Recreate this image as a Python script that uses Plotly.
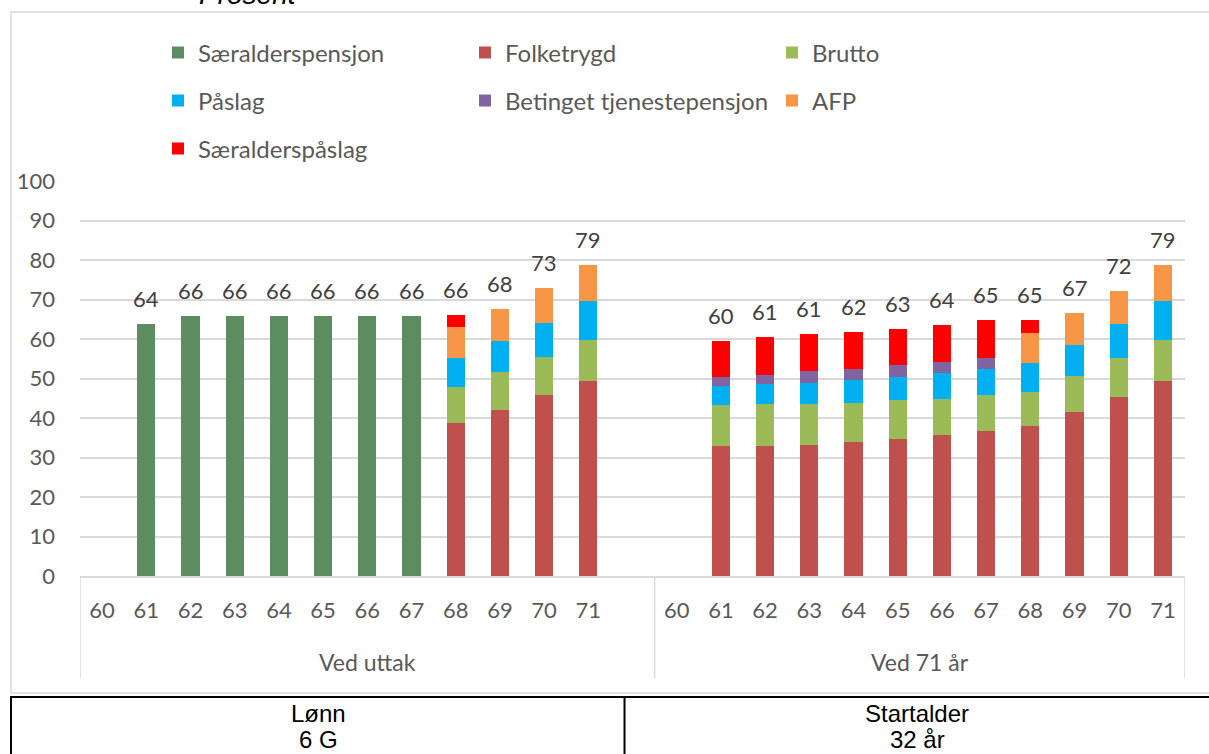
import plotly.graph_objects as go

# Category labels
ages = ["60", "61", "62", "63", "64", "65", "66", "67", "68", "69", "70", "71"]
group_labels = ["Ved uttak", "Ved 71 år"]

# Pension components, percent of salary — "Ved uttak"
saeralderspensjon_uttak = [None, 63.7, 65.9, 65.9, 65.9, 65.9, 65.9, 65.9, None, None, None, None]
folketrygd_uttak = [None, None, None, None, None, None, None, None, 38.7, 42.1, 45.7, 49.4]
brutto_uttak = [None, None, None, None, None, None, None, None, 9.2, 9.5, 9.8, 10.4]
paaslag_uttak = [None, None, None, None, None, None, None, None, 7.2, 7.9, 8.5, 9.8]
betinget_uttak = [None] * 12
afp_uttak = [None, None, None, None, None, None, None, None, 7.9, 8.1, 8.9, 9.2]
saeralderspaaslag_uttak = [None, None, None, None, None, None, None, None, 3.0, None, None, None]

# Pension components, percent of salary — "Ved 71 år"
saeralderspensjon_71 = [None] * 12
folketrygd_71 = [None, 32.9, 32.9, 33.1, 33.8, 34.8, 35.7, 36.8, 38.1, 41.4, 45.4, 49.4]
brutto_71 = [None, 10.3, 10.6, 10.4, 10.1, 9.8, 9.2, 8.9, 8.5, 9.2, 9.7, 10.4]
paaslag_71 = [None, 4.9, 5.0, 5.3, 5.6, 5.8, 6.5, 6.8, 7.3, 7.9, 8.6, 9.8]
betinget_71 = [None, 2.3, 2.5, 3.0, 2.9, 3.0, 2.7, 2.6, None, None, None, None]
afp_71 = [None, None, None, None, None, None, None, None, 7.5, 8.1, 8.5, 9.2]
saeralderspaaslag_71 = [None, 9.2, 9.6, 9.5, 9.5, 9.2, 9.5, 9.6, 3.3, None, None, None]

series_names = ["Særalderspensjon", "Folketrygd", "Brutto", "Påslag",
                "Betinget tjenestepensjon", "AFP", "Særalderspåslag"]
series_colors = ["#5E8C61", "#C0504D", "#9BBB59", "#00B0F0", "#8064A2", "#F79646", "#FF0000"]
legend_rows = ["legend", "legend", "legend", "legend2", "legend2", "legend2", "legend3"]

table_headers = ["Lønn", "Startalder"]
table_values = ["6 G", "32 år"]

series_uttak = [saeralderspensjon_uttak, folketrygd_uttak, brutto_uttak, paaslag_uttak,
                betinget_uttak, afp_uttak, saeralderspaaslag_uttak]
series_71 = [saeralderspensjon_71, folketrygd_71, brutto_71, paaslag_71,
             betinget_71, afp_71, saeralderspaaslag_71]

# Slot positions on the category axis: 12 ages, one empty slot, 12 ages
pos_uttak = list(range(0, 12))
pos_71 = list(range(13, 25))
positions = pos_uttak + pos_71

GRAY_TEXT = "#595959"
GRID = "#D9D9D9"
FONT = "Lato"

fig = go.Figure()
for name, color, leg, a, b in zip(series_names, series_colors, legend_rows, series_uttak, series_71):
    fig.add_trace(go.Bar(
        name=name, x=positions, y=a + b, marker=dict(color=color, line=dict(width=0)),
        legend=leg, showlegend=True, hoverinfo="x+y+name",
    ))

# Stack totals above each bar
combined = [sa + sb for sa, sb in zip(series_uttak, series_71)]
for i, p in enumerate(positions):
    vals = [s[i] for s in combined if s[i] is not None]
    if vals:
        total = sum(vals)
        fig.add_annotation(x=p, y=total, text=str(int(total + 0.5)), showarrow=False,
                           xanchor="center", yanchor="bottom", yshift=10,
                           font=dict(family=FONT, size=22, color="#404040"))

# Plot area: x 80..1185 px, y 181..576 px
L, R, T, B = 80, 1185, 181, 576
W, H = R - L, B - T


def px_x(px):
    return (px - L) / W


def px_y(py):
    return (B - py) / H


# Group labels and dividers under the category axis
for label, lo, hi in [(group_labels[0], -0.5, 12.5), (group_labels[1], 12.5, 24.5)]:
    fig.add_annotation(x=(lo + hi) / 2, xref="x", y=px_y(662), yref="paper", text=label,
                       showarrow=False, xanchor="center", yanchor="middle",
                       font=dict(family=FONT, size=23, color=GRAY_TEXT))
for xv in [-0.5, 12.5, 24.5]:
    fig.add_shape(type="line", xref="x", yref="paper", x0=xv, x1=xv, y0=0, y1=px_y(678),
                  line=dict(color=GRID, width=1.5))

# Chart frame
fig.add_shape(type="rect", xref="paper", yref="paper", x0=px_x(11), x1=px_x(1215),
              y0=px_y(693), y1=px_y(12), line=dict(color=GRID, width=1.5), layer="below")

# Table below the chart
fig.add_shape(type="rect", xref="paper", yref="paper", x0=px_x(11), x1=px_x(1220),
              y0=px_y(770), y1=px_y(697), line=dict(color="black", width=2))
fig.add_shape(type="line", xref="paper", yref="paper", x0=px_x(624.5), x1=px_x(624.5),
              y0=px_y(770), y1=px_y(697), line=dict(color="black", width=2))
for head, val, cx in zip(table_headers, table_values, [318, 917]):
    fig.add_annotation(x=px_x(cx), xref="paper", y=px_y(713), yref="paper", text=head,
                       showarrow=False, xanchor="center", yanchor="middle",
                       font=dict(family="Liberation Sans", size=24, color="black"))
    fig.add_annotation(x=px_x(cx), xref="paper", y=px_y(739), yref="paper", text=val,
                       showarrow=False, xanchor="center", yanchor="middle",
                       font=dict(family="Liberation Sans", size=24, color="black"))

# Axis title placed above the frame
fig.add_annotation(x=px_x(248), xref="paper", y=px_y(12), yref="paper", text="<i>Prosent</i>",
                   showarrow=False, xanchor="center", yanchor="bottom",
                   font=dict(family="Liberation Sans", size=28, color="black"))

legend_style = dict(orientation="h", xanchor="left", yanchor="middle", x=px_x(158),
                    font=dict(family=FONT, size=24, color=GRAY_TEXT),
                    entrywidth=262, entrywidthmode="pixels", itemwidth=30,
                    bgcolor="rgba(0,0,0,0)", traceorder="normal")

fig.update_layout(
    width=1209, height=754,
    margin=dict(l=L, r=1209 - R, t=T, b=754 - B),
    paper_bgcolor="white", plot_bgcolor="white",
    barmode="stack", bargap=0.59,
    font=dict(family=FONT, color=GRAY_TEXT),
    legend=dict(legend_style, y=px_y(53)),
    legend2=dict(legend_style, y=px_y(101)),
    legend3=dict(legend_style, y=px_y(149)),
    xaxis=dict(
        range=[-0.5, 24.5], tickmode="array", tickvals=positions, ticktext=ages + ages,
        showgrid=False, showline=True, linecolor=GRID, linewidth=1.5, zeroline=False,
        ticks="", ticklabelstandoff=14, tickfont=dict(family=FONT, size=22, color=GRAY_TEXT),
    ),
    yaxis=dict(
        range=[0, 100], dtick=10, tick0=0, showgrid=True, gridcolor=GRID, gridwidth=1.5,
        zeroline=False, showline=False, ticks="", ticklabelstandoff=24,
        tickfont=dict(family=FONT, size=22, color=GRAY_TEXT),
    ),
)

fig.write_html("out.html")
